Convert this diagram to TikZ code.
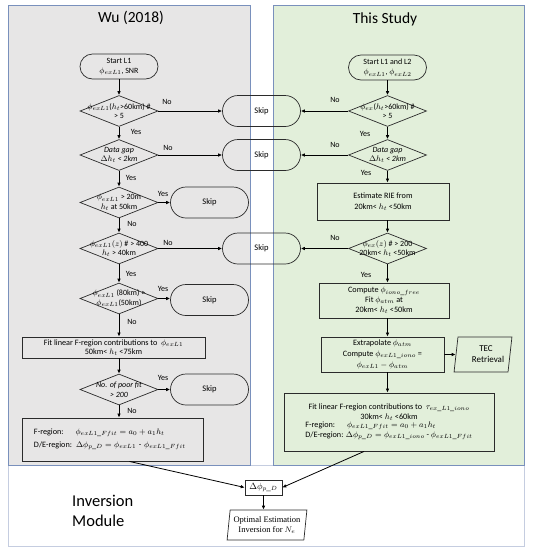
\documentclass[tikz,border=0pt]{standalone}
\usepackage{fontspec}
\setmainfont{Carlito}
\newfontfamily\timesf{Liberation Serif}
\usetikzlibrary{shapes.geometric,arrows.meta,calc}
\definecolor{panelgray}{HTML}{E7E6E6}
\definecolor{panelgreen}{HTML}{E2EFDA}
\definecolor{panelblue}{HTML}{7990BC}
\definecolor{modframe}{HTML}{C5CDE0}
\definecolor{boxline}{HTML}{2B2B2B}
\begin{document}
\begin{tikzpicture}[x=1pt,y=-1pt,
  txt/.style={font=\fontsize{8}{9.6}\selectfont, align=center, inner sep=0pt},
  itxt/.style={font=\fontsize{8}{9.6}\selectfont\itshape, align=center, inner sep=0pt},
  dia/.style={draw=boxline, diamond, minimum width=78pt, minimum height=31pt, inner sep=0pt, line width=0.7pt},
  term/.style={draw=boxline, rectangle, rounded corners=12.5pt, minimum width=78pt, minimum height=25pt, line width=0.7pt, font=\fontsize{8}{10.5}\selectfont, align=center, inner sep=0pt},
  skipbox/.style={draw=boxline, rectangle, rounded corners=15.5pt, minimum width=78pt, minimum height=31pt, line width=0.7pt, font=\fontsize{8.5}{9}\selectfont, inner sep=0pt},
  proc/.style={draw=boxline, rectangle, line width=0.9pt, font=\fontsize{8.2}{10}\selectfont, align=center, inner sep=0pt},
  para/.style={draw=boxline, trapezium, trapezium stretches=true, line width=0.7pt, align=center, inner sep=0pt},
  arr/.style={-{Latex[length=4pt,width=3.6pt]}, line width=0.8pt, draw=black},
  lab/.style={font=\fontsize{8}{9}\selectfont, inner sep=0pt},
  title/.style={font=\fontsize{15.5}{18}\selectfont, inner sep=0pt}
]
\useasboundingbox (0,0) rectangle (534,550);
% panels
\fill[panelgray] (8,5) rectangle (250,465);
\fill[panelgreen] (273,5) rectangle (524,465);
\draw[modframe, line width=0.8pt] (8,465) rectangle (524,546);
\draw[panelblue, line width=0.7pt] (8,5) rectangle (250,465);
\draw[panelblue, line width=0.7pt] (273,5) rectangle (524,465);
\node[title] (t1) at (131,18) {Wu (2018)};
\node[title] (t2) at (385,19) {This Study};
\node[title, anchor=west, align=left, font=\fontsize{16.5}{19.5}\selectfont] (im) at (72,511) {Inversion\\Module};

% ---------- left column ----------
\node[term] (s1) at (119,66.5) {Start L1\\ $\phi_{exL1}$, SNR};
\node[dia] (d1) at (119,111) {};
\node[txt] at (d1) {$\phi_{exL1}$($h_t$>60km) \#\\ > 5};
\node[dia] (d2) at (119,155) {};
\node[itxt] at (d2) {Data gap\\ $\Delta h_t$ < 2km};
\node[dia] (d3) at (119,202.5) {};
\node[txt] at (d3) {$\phi_{exL1}$ > 20m\\ $h_t$ at 50km};
\node[dia] (d4) at (119,248.5) {};
\node[txt] at (d4) {$\phi_{exL1}(z)$ \# > 400\\ $h_t$ > 40km};
\node[dia] (d5) at (119,298.5) {};
\node[txt] at (d5) {$\phi_{exL1}$ (80km) >\\ $\phi_{exL1}$(50km)};
\node[proc, minimum width=183pt, minimum height=21pt, font=\fontsize{8.2}{9.6}\selectfont] (r1) at (113.5,347.5)
  {Fit linear F-region contributions to \ $\phi_{exL1}$\\ 50km< $h_t$ <75km};
\node[dia] (d6) at (119,389.5) {};
\node[itxt] at (d6) {No. of poor fit\\ > 200};
\node[proc, minimum width=181pt, minimum height=43pt, text width=157pt, align=left,
  font=\fontsize{8.2}{13}\selectfont] (r2) at (112.5,439.5)
  {F-region:\hspace{12pt}$\phi_{exL1\_Ffit} = a_0 + a_1h_t$\\ D/E-region: $\Delta\phi_{p\_D} = \phi_{exL1}$ - $\phi_{exL1\_Ffit}$};

% skip boxes
\node[skipbox] (sk1) at (261.5,111) {Skip};
\node[skipbox] (sk2) at (261.5,155) {Skip};
\node[skipbox] (sk3) at (261.5,248.5) {Skip};
\node[skipbox] (ska) at (209.5,202.5) {Skip};
\node[skipbox] (skb) at (209.5,300) {Skip};
\node[skipbox] (skc) at (209.5,389.5) {Skip};

% ---------- right column ----------
\node[term] (s2) at (387.5,67.5) {Start L1 and L2\\ $\phi_{exL1}$, $\phi_{exL2}$};
\node[dia] (e1) at (387.5,111) {};
\node[txt] at (e1) {$\phi_{ex}$($h_t$>60km) \#\\ > 5};
\node[dia] (e2) at (387.5,155) {};
\node[itxt] at (e2) {Data gap\\ $\Delta h_t$ < 2km};
\node[proc, minimum width=132pt, minimum height=37pt, font=\fontsize{8.2}{11}\selectfont] (q1) at (383,201.5)
  {Estimate RIE from\\ 20km< $h_t$ <50km};
\node[dia] (e3) at (387.5,248.5) {};
\node[txt] at (e3) {$\phi_{ex}(z)$ \# > 200\\ 20km< $h_t$ <50km};
\node[proc, minimum width=130pt, minimum height=35pt] (q2) at (384,300.5)
  {Compute $\phi_{iono\_free}$\\ Fit $\phi_{atm}$ at\\ 20km< $h_t$ <50km};
\node[proc, minimum width=123pt, minimum height=35pt, font=\fontsize{8.2}{10.8}\selectfont] (q3) at (382.5,354.5)
  {Extrapolate $\phi_{atm}$\\ Compute $\phi_{exL1\_iono}$ =\\ $\phi_{exL1} - \phi_{atm}$};
\node[para, trapezium left angle=79, trapezium right angle=101, minimum width=58pt, minimum height=35pt,
  font=\fontsize{9}{11}\selectfont] (tec) at (483,354.5) {\hspace{6pt}TEC\\ \hspace{10pt}Retrieval};
\node[proc, minimum width=210pt, minimum height=58pt] (q4) at (389,422)
  {Fit linear F-region contributions to \ $\tau_{ex\_L1\_iono}$\\ 30km< $h_t$ <60km\\[-1pt]
   \begin{tabular}{@{}l@{}}F-region:\hspace{12pt}$\phi_{exL1\_Ffit} = a_0 + a_1h_t$\\ D/E-region: $\Delta\phi_{p\_D} = \phi_{exL1\_iono}$ - $\phi_{exL1\_Ffit}$\end{tabular}};

% ---------- bottom ----------
\node[draw=boxline, line width=0.6pt, minimum width=37pt, minimum height=15pt, inner sep=0pt,
  font=\timesf\fontsize{9}{10}\selectfont] (dp) at (263.5,487.5) {$\Delta\phi_{p\_D}$};
\node[para, trapezium left angle=81, trapezium right angle=99, minimum width=80pt, minimum height=30pt,
  font=\timesf\fontsize{8.5}{10.5}\selectfont] (opt) at (267,525) {Optimal Estimation\\ Inversion for $N_e$};

% ---------- arrows left ----------
\draw[arr] (s1) -- (d1);
\draw[arr] (d1) -- (d2);
\draw[arr] (d2) -- (d3);
\draw[arr] (d3) -- (d4);
\draw[arr] (d4) -- (d5);
\draw[arr] (d5.south) -- (d5.south |- r1.north);
\draw[arr] (r1.south -| d6.north) -- (d6.north);
\draw[arr] (d6.south) -- (d6.south |- r2.north);
\draw[arr] (d1.east) -- (d1.east -| sk1.west);
\draw[arr] (d2.east) -- (d2.east -| sk2.west);
\draw[arr] (d3.east) -- (d3.east -| ska.west);
\draw[arr] (d4.east) -- (d4.east -| sk3.west);
\draw[arr] (d5.east) -- (d5.east -| skb.west);
\draw[arr] (d6.east) -- (d6.east -| skc.west);

% ---------- arrows right ----------
\draw[arr] (s2) -- (e1);
\draw[arr] (e1) -- (e2);
\draw[arr] (e2.south) -- (e2.south |- q1.north);
\draw[arr] (q1.south -| e3.north) -- (e3.north);
\draw[arr] (e3.south) -- (e3.south |- q2.north);
\draw[arr] (q2.south -| e3.south) -- (q3.north -| e3.south);
\draw[arr] (q3.south -| e3.south) -- (q4.north -| e3.south);
\draw[arr] (q3.east) -- (tec.west);
\draw[arr] (e1.west) -- (e1.west -| sk1.east);
\draw[arr] (e2.west) -- (e2.west -| sk2.east);
\draw[arr] (e3.west) -- (e3.west -| sk3.east);

% ---------- arrows bottom ----------
\draw[arr] ([xshift=17pt]r2.south) -- (dp.west);
\draw[arr] ([xshift=-25pt]q4.south) -- (dp.east);
\draw[arr] (dp.south) -- (opt.north -| dp.south);

% ---------- labels ----------
\node[lab] (n1) at (167,102) {No};
\node[lab] (y1) at (136,132) {Yes};
\node[lab] (n2) at (168,147.5) {No};
\node[lab] (y2) at (131,178) {Yes};
\node[lab] (y3) at (163,193.5) {Yes};
\node[lab] (n3) at (132,224) {No};
\node[lab] (n4) at (168,242.5) {No};
\node[lab] (y4) at (131,274) {Yes};
\node[lab] (y5) at (163,289) {Yes};
\node[lab] (n5) at (132,322) {No};
\node[lab] (y6) at (163,377.5) {Yes};
\node[lab] (n6) at (132,411) {No};
\node[lab] (n7) at (335,100) {No};
\node[lab] (y7) at (365,134) {Yes};
\node[lab] (n8) at (335,145) {No};
\node[lab] (y8) at (366,173) {Yes};
\node[lab] (n9) at (335,238) {No};
\node[lab] (y9) at (366,275) {Yes};
\end{tikzpicture}
\end{document}
